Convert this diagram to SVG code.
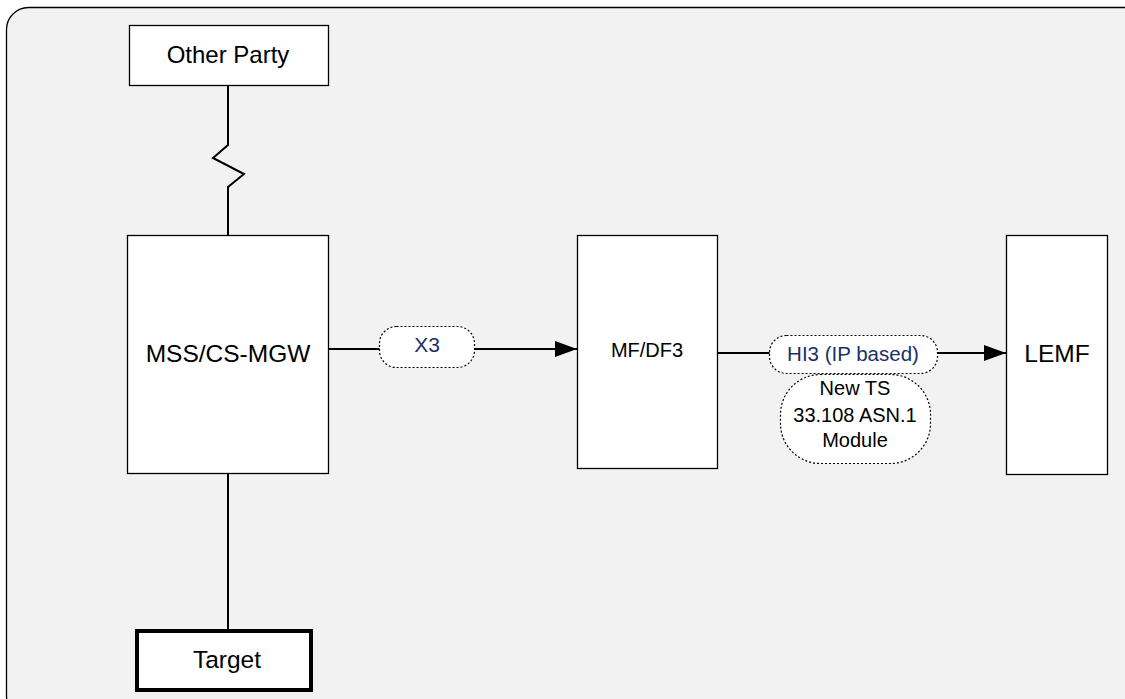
<svg xmlns="http://www.w3.org/2000/svg" width="1125" height="699" viewBox="0 0 1125 699">
<style>
.box{fill:#fff;stroke:#000;stroke-width:1.3}
.t{font-family:"Liberation Sans",Arial,sans-serif;fill:#000;text-anchor:middle}
.lbl{font-family:"Liberation Sans",Arial,sans-serif;fill:#1b2f6b;text-anchor:middle}
.pill{fill:#fff;stroke:#000;stroke-width:1.2;stroke-dasharray:2 2}
.ln{fill:none;stroke:#000;stroke-width:2}
</style>
<defs>
<marker id="arr" markerWidth="24" markerHeight="18" refX="22" refY="8" orient="auto" markerUnits="userSpaceOnUse">
<path d="M0,0 L22,8 L0,16 Z" fill="#000"/>
</marker>
</defs>
<rect x="6.5" y="7.5" width="1140" height="710" rx="22" fill="#f2f2f2" stroke="#000" stroke-width="1.3"/>
<g id="connectors">
<polyline class="ln" points="228,85 228,145 213,158 244,174 228,187 228,235"/>
<line class="ln" x1="228" y1="473" x2="228" y2="631"/>
<line class="ln" x1="328" y1="349" x2="577" y2="349" marker-end="url(#arr)"/>
<line class="ln" x1="717" y1="353" x2="1006" y2="353" marker-end="url(#arr)"/>
</g>
<g id="other-party">
<rect class="box" x="129.5" y="25.5" width="199" height="60"/>
<text class="t" x="228" y="63" font-size="24">Other Party</text>
</g>
<g id="mss">
<rect class="box" x="127.5" y="235.5" width="201" height="238"/>
<text class="t" x="228" y="362" font-size="24.5">MSS/CS-MGW</text>
</g>
<g id="mfdf3">
<rect class="box" x="577.5" y="235.5" width="140" height="233"/>
<text class="t" x="647" y="357" font-size="20">MF/DF3</text>
</g>
<g id="lemf">
<rect class="box" x="1006.5" y="235.5" width="101" height="239"/>
<text class="t" x="1057" y="362" font-size="24.5">LEMF</text>
</g>
<g id="target">
<rect x="137" y="631" width="174" height="59" fill="#fff" stroke="#000" stroke-width="4"/>
<text class="t" x="227" y="668" font-size="24.5">Target</text>
</g>
<g id="x3-label">
<rect class="pill" x="379.5" y="326.5" width="95" height="41" rx="17"/>
<text class="lbl" x="427" y="352" font-size="21">X3</text>
</g>
<g id="hi3-label">
<rect class="pill" x="780.5" y="374.5" width="150" height="89" rx="40"/>
<rect class="pill" x="769.5" y="335.5" width="168" height="38" rx="17"/>
<text class="lbl" x="853" y="361" font-size="20.5">HI3 (IP based)</text>
<text class="t" x="855" y="395" font-size="20">New TS</text>
<text class="t" x="855" y="422" font-size="20">33.108 ASN.1</text>
<text class="t" x="855" y="447" font-size="20">Module</text>
</g>
</svg>
